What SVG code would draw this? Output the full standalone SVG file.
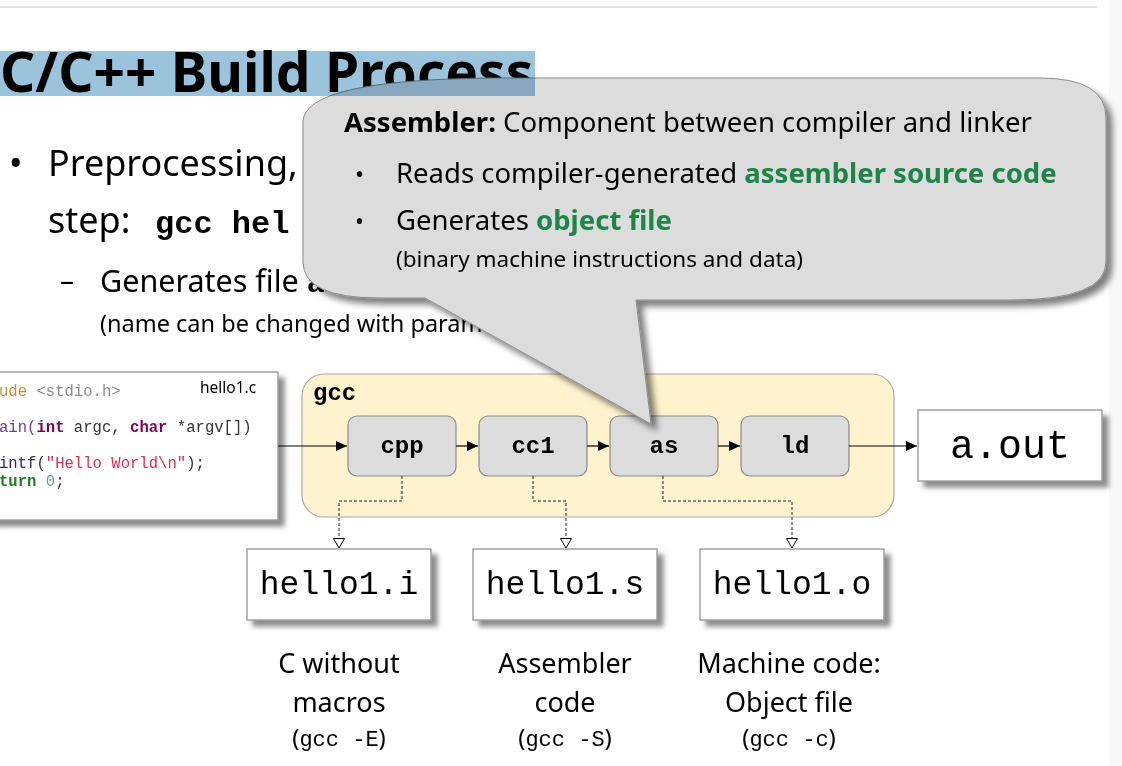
<svg xmlns="http://www.w3.org/2000/svg" width="1122" height="766" viewBox="0 0 1122 766">
  <style>
    .sans { font-family: "Noto Sans", "Open Sans", sans-serif; fill: #000; }
    .mono { font-family: "Liberation Mono", "Courier New", monospace; fill: #000; }
    .bold { font-weight: bold; }
    .green { fill: #1e8449; font-weight: bold; }
    .filebox { fill: #fff; stroke: #8a8a8a; stroke-width: 1.2; filter: url(#shadow); }
    .stage { fill: #dcdcdc; stroke: #8a8a8a; stroke-width: 1.2; }
    .flow { stroke: #000; stroke-width: 1.2; fill: none; marker-end: url(#solid); }
    .out { stroke: #222; stroke-width: 1; fill: none; stroke-dasharray: 3 2; marker-end: url(#hollow); }
    .lbl { font-size: 27px; text-anchor: middle; }
    .code { font-family: "Liberation Mono", "Courier New", monospace; font-size: 15.6px; }
  </style>
  <defs>
    <filter id="shadow" x="-10%" y="-10%" width="130%" height="140%">
      <feDropShadow dx="6" dy="6" stdDeviation="2.5" flood-color="#000" flood-opacity="0.45"/>
    </filter>
    <filter id="bubbleShadow" x="-5%" y="-5%" width="115%" height="125%">
      <feDropShadow dx="6" dy="6" stdDeviation="3" flood-color="#000" flood-opacity="0.5"/>
    </filter>
    <marker id="solid" markerUnits="userSpaceOnUse" markerWidth="12" markerHeight="12" refX="11" refY="5" orient="auto">
      <path d="M0,0 L11,5 L0,10 Z" fill="#000"/>
    </marker>
    <marker id="hollow" markerUnits="userSpaceOnUse" markerWidth="14" markerHeight="14" refX="10" refY="6" orient="auto">
      <path d="M0.5,0.5 L10,6 L0.5,11.5 Z" fill="#fff" stroke="#000" stroke-width="1"/>
    </marker>
  </defs>

  <rect width="1122" height="766" fill="#fff"/>
  <rect x="1109" y="0" width="13" height="766" fill="#f8f8f8"/>
  <line x1="0" y1="7" x2="1097" y2="7" stroke="#d9d9d9" stroke-width="1.5"/>

  <!-- slide title and bullets -->
  <text class="sans bold" x="0" y="92" font-size="55">C/C++ Build Process</text>
  <text class="sans" x="9" y="176" font-size="36">•</text>
  <text class="sans" x="48" y="176" font-size="36">Preprocessing,</text>
  <text class="sans" x="48" y="233" font-size="36">step:</text>
  <text class="mono bold" x="155" y="233" font-size="32">gcc hel</text>
  <text class="sans" x="60" y="290" font-size="28">–</text>
  <text class="sans" x="100" y="292" font-size="30.5">Generates file <tspan class="mono bold" font-size="30">a</tspan></text>
  <text class="sans" x="100" y="332" font-size="23.5">(name can be changed with param</text>

  <!-- source file -->
  <g id="source">
    <rect class="filebox" x="-10" y="372" width="288" height="148"/>
    <text class="sans" x="200" y="393" font-size="15.5">hello1.c</text>
    <text class="code" x="-1" y="396"><tspan fill="#c0923c">ude</tspan><tspan fill="#8c8c8c"> &lt;stdio.h&gt;</tspan></text>
    <text class="code" x="-1" y="432"><tspan fill="#6b3d8e">ain(</tspan><tspan fill="#7f0055" font-weight="bold">int</tspan><tspan fill="#333"> argc, </tspan><tspan fill="#7f0055" font-weight="bold">char</tspan><tspan fill="#333"> *argv[])</tspan></text>
    <text class="code" x="-1" y="468"><tspan fill="#3a2a4a">intf(</tspan><tspan fill="#cc3355">"Hello World\n"</tspan><tspan fill="#333">);</tspan></text>
    <text class="code" x="-1" y="486"><tspan fill="#1d7a1d" font-weight="bold">turn</tspan><tspan fill="#333"> </tspan><tspan fill="#6a9a8a">0</tspan><tspan fill="#333">;</tspan></text>
  </g>

  <!-- gcc driver with its stages -->
  <g id="gcc">
    <rect x="302" y="374" width="592" height="143" rx="22" fill="#fff3cf" stroke="#a8a8a8" stroke-width="1.2"/>
    <text class="mono bold" x="313" y="400" font-size="24">gcc</text>
  </g>
  <g id="cpp">
    <rect class="stage" x="348" y="416" width="108" height="60" rx="9"/>
    <text class="mono bold" x="402" y="453" font-size="24" text-anchor="middle">cpp</text>
  </g>
  <g id="cc1">
    <rect class="stage" x="479" y="416" width="108" height="60" rx="9"/>
    <text class="mono bold" x="533" y="453" font-size="24" text-anchor="middle">cc1</text>
  </g>
  <g id="as">
    <rect class="stage" x="610" y="416" width="108" height="60" rx="9"/>
    <text class="mono bold" x="664" y="453" font-size="24" text-anchor="middle">as</text>
  </g>
  <g id="ld">
    <rect class="stage" x="741" y="416" width="108" height="60" rx="9"/>
    <text class="mono bold" x="795" y="453" font-size="24" text-anchor="middle">ld</text>
  </g>

  <!-- outputs -->
  <g id="aout">
    <rect class="filebox" x="918" y="410" width="184" height="71"/>
    <text class="mono" x="1010" y="458" font-size="40" text-anchor="middle">a.out</text>
  </g>
  <g id="hello1i">
    <rect class="filebox" x="247" y="549" width="184" height="71"/>
    <text class="mono" x="339" y="594" font-size="33" text-anchor="middle">hello1.i</text>
    <text class="sans lbl" x="339" y="673">C without</text>
    <text class="sans lbl" x="339" y="712">macros</text>
    <text class="sans" x="339" y="746" font-size="24" text-anchor="middle">(<tspan class="mono" font-size="22">gcc -E</tspan>)</text>
  </g>
  <g id="hello1s">
    <rect class="filebox" x="473" y="549" width="184" height="71"/>
    <text class="mono" x="565" y="594" font-size="33" text-anchor="middle">hello1.s</text>
    <text class="sans lbl" x="565" y="673">Assembler</text>
    <text class="sans lbl" x="565" y="712">code</text>
    <text class="sans" x="565" y="746" font-size="24" text-anchor="middle">(<tspan class="mono" font-size="22">gcc -S</tspan>)</text>
  </g>
  <g id="hello1o">
    <rect class="filebox" x="700" y="549" width="184" height="71"/>
    <text class="mono" x="792" y="594" font-size="33" text-anchor="middle">hello1.o</text>
    <text class="sans lbl" x="789" y="673">Machine code:</text>
    <text class="sans lbl" x="789" y="712">Object file</text>
    <text class="sans" x="789" y="746" font-size="24" text-anchor="middle">(<tspan class="mono" font-size="22">gcc -c</tspan>)</text>
  </g>

  <!-- connectors -->
  <g id="connectors">
    <line class="flow" x1="278" y1="446" x2="347" y2="446"/>
    <line class="flow" x1="456" y1="446" x2="478" y2="446"/>
    <line class="flow" x1="587" y1="446" x2="609" y2="446"/>
    <line class="flow" x1="718" y1="446" x2="740" y2="446"/>
    <line class="flow" x1="849" y1="446" x2="917" y2="446"/>
    <path class="out" d="M402,476 V501 H339 V548"/>
    <path class="out" d="M533,476 V501 H566 V548"/>
    <path class="out" d="M663,476 V501 H792 V548"/>
  </g>

  <!-- assembler callout -->
  <g id="callout">
    <path d="M303,122 Q303,80 490,78 L1040,78 Q1106,78 1106,118 L1106,262 Q1106,300 1010,300 L636,300 L651,424 L425,298 L380,298 Q303,298 303,262 Z"
          fill="#dcdcdc" stroke="#8c8c8c" stroke-width="1" filter="url(#bubbleShadow)"/>
    <text class="sans" x="344" y="132" font-size="27.5"><tspan font-weight="bold">Assembler:</tspan> Component between compiler and linker</text>
    <text class="sans" x="355" y="183" font-size="24">•</text>
    <text class="sans" x="396" y="183" font-size="27.5">Reads compiler-generated <tspan class="green">assembler source code</tspan></text>
    <text class="sans" x="355" y="230" font-size="24">•</text>
    <text class="sans" x="396" y="230" font-size="27.5">Generates <tspan class="green">object file</tspan></text>
    <text class="sans" x="396" y="267" font-size="22.5">(binary machine instructions and data)</text>
  </g>

  <!-- title selection highlight -->
  <rect x="0" y="51" width="535" height="45" fill="#9cc3dc" style="mix-blend-mode:multiply"/>
</svg>
